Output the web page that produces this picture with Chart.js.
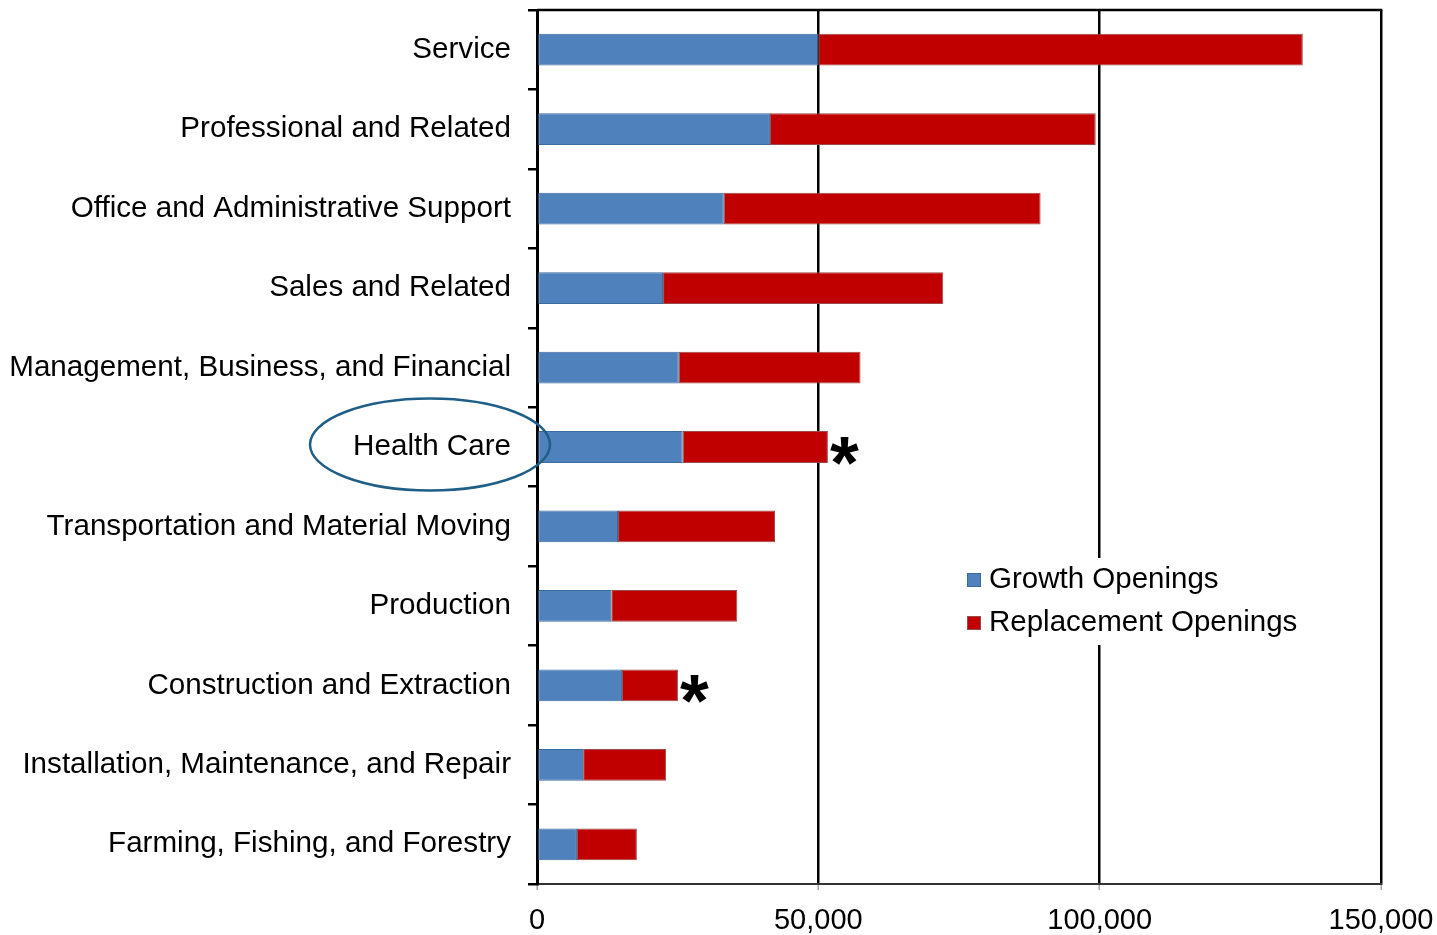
<!DOCTYPE html>
<html><head><meta charset="utf-8">
<script src="https://cdn.jsdelivr.net/npm/chart.js@4.4.0/dist/chart.umd.min.js"></script>
<style>html,body{margin:0;padding:0;background:#fff}#wrap{width:1437px;height:935px}</style>
</head><body><div id="wrap"><canvas id="c" width="1437" height="935"></canvas></div>
<script>
const categories = [
  'Service',
  'Professional and Related',
  'Office and Administrative Support',
  'Sales and Related',
  'Management, Business, and Financial',
  'Health Care',
  'Transportation and Material Moving',
  'Production',
  'Construction and Extraction',
  'Installation, Maintenance, and Repair',
  'Farming, Fishing, and Forestry'
];
const growthOpenings = [50000, 41400, 33200, 22400, 25200, 25900, 14400, 13200, 15100, 8200, 7100];
const replacementOpenings = [86100, 57900, 56300, 49800, 32300, 25800, 27900, 22400, 9950, 14750, 10650];
const seriesNames = ['Growth Openings', 'Replacement Openings'];
const xTickValues = [0, 50000, 100000, 150000];
const markedCategories = ['Health Care', 'Construction and Extraction'];
const circledCategory = 'Health Care';

const FONT = '"Liberation Sans", Arial, sans-serif';
const seriesColors = ['#4F81BD', '#C00000'];
const seriesBorders = ['#3A6A9E', '#9A4A4A'];

const overlayPlugin = {
  id: 'overlay',
  afterDatasetsDraw(chart) {
    const ctx = chart.ctx;
    const area = chart.chartArea;
    const xs = chart.scales.x, ys = chart.scales.y;
    ctx.save();
    // top border
    ctx.strokeStyle = '#000';
    ctx.lineWidth = 2.5;
    ctx.beginPath();
    ctx.moveTo(area.left, area.top);
    ctx.lineTo(area.right + 1.25, area.top);
    ctx.stroke();

    // asterisks
    ctx.fillStyle = '#000';
    ctx.font = 'bold 74px ' + FONT;
    ctx.textAlign = 'left';
    ctx.textBaseline = 'alphabetic';
    markedCategories.forEach(cat => {
      const i = categories.indexOf(cat);
      const total = growthOpenings[i] + replacementOpenings[i];
      const x = xs.getPixelForValue(total) + 2;
      const y = ys.getPixelForValue(i);
      ctx.fillText('*', x, y + 41);
    });

    // ellipse around circled label
    const ci = categories.indexOf(circledCategory);
    const cy = ys.getPixelForValue(ci) - 2.5;
    ctx.strokeStyle = '#1F5F87';
    ctx.lineWidth = 2.5;
    ctx.beginPath();
    ctx.ellipse(area.left - 107, cy, 120, 46, 0, 0, Math.PI * 2);
    ctx.stroke();

    // legend
    const lx = area.left + 430, ly = 580, gap = 43;
    ctx.fillStyle = '#fff';
    ctx.fillRect(lx - 12, ly - 22, 350, gap + 44);
    ctx.font = '29.5px ' + FONT;
    ctx.textBaseline = 'middle';
    seriesNames.forEach((name, k) => {
      const y = ly + k * gap;
      ctx.fillStyle = seriesColors[k];
      ctx.fillRect(lx, y - 7, 14, 14);
      ctx.strokeStyle = seriesBorders[k];
      ctx.lineWidth = 1;
      ctx.strokeRect(lx + 0.5, y - 6.5, 13, 13);
      ctx.fillStyle = '#000';
      ctx.fillText(name, lx + 22, y);
    });
    ctx.restore();
  }
};

new Chart(document.getElementById('c'), {
  type: 'bar',
  data: {
    labels: categories,
    datasets: [
      { label: seriesNames[0], data: growthOpenings, backgroundColor: seriesColors[0], borderColor: seriesBorders[0], borderWidth: 1, borderSkipped: false },
      { label: seriesNames[1], data: replacementOpenings, backgroundColor: seriesColors[1], borderColor: seriesBorders[1], borderWidth: 1, borderSkipped: false }
    ]
  },
  options: {
    indexAxis: 'y',
    responsive: false,
    animation: false,
    devicePixelRatio: 1,
    layout: { padding: { left: 0, right: 56, top: 10, bottom: 0 } },
    datasets: { bar: { categoryPercentage: 1, barPercentage: 0.4 } },
    plugins: { legend: { display: false }, tooltip: { enabled: false } },
    scales: {
      x: {
        stacked: true,
        min: 0, max: 150000,
        afterBuildTicks: s => { s.ticks = xTickValues.map(v => ({ value: v })); },
        afterFit: s => { s.height = 51; s.paddingLeft = 0; s.paddingRight = 0; },
        grid: { color: '#000', lineWidth: 2.5, drawTicks: true, tickColor: '#A6A6A6', tickLength: 6, tickWidth: 1.5 },
        border: { display: true, color: '#333', width: 2 },
        ticks: {
          color: '#000', padding: 14,
          font: { family: FONT, size: 29 },
          callback: v => Number(v).toLocaleString('en-US'),
          maxRotation: 0
        }
      },
      y: {
        stacked: true,
        afterFit: s => { s.width = 537; s.paddingTop = 0; s.paddingBottom = 0; },
        grid: { drawOnChartArea: false, drawTicks: true, tickLength: 9, tickColor: '#000', lineWidth: 2.5, offset: true },
        border: { display: true, color: '#000', width: 3 },
        ticks: { color: '#000', padding: 17, font: { family: FONT, size: 29.6 }, autoSkip: false }
      }
    }
  },
  plugins: [overlayPlugin]
});
</script>
</body></html>
